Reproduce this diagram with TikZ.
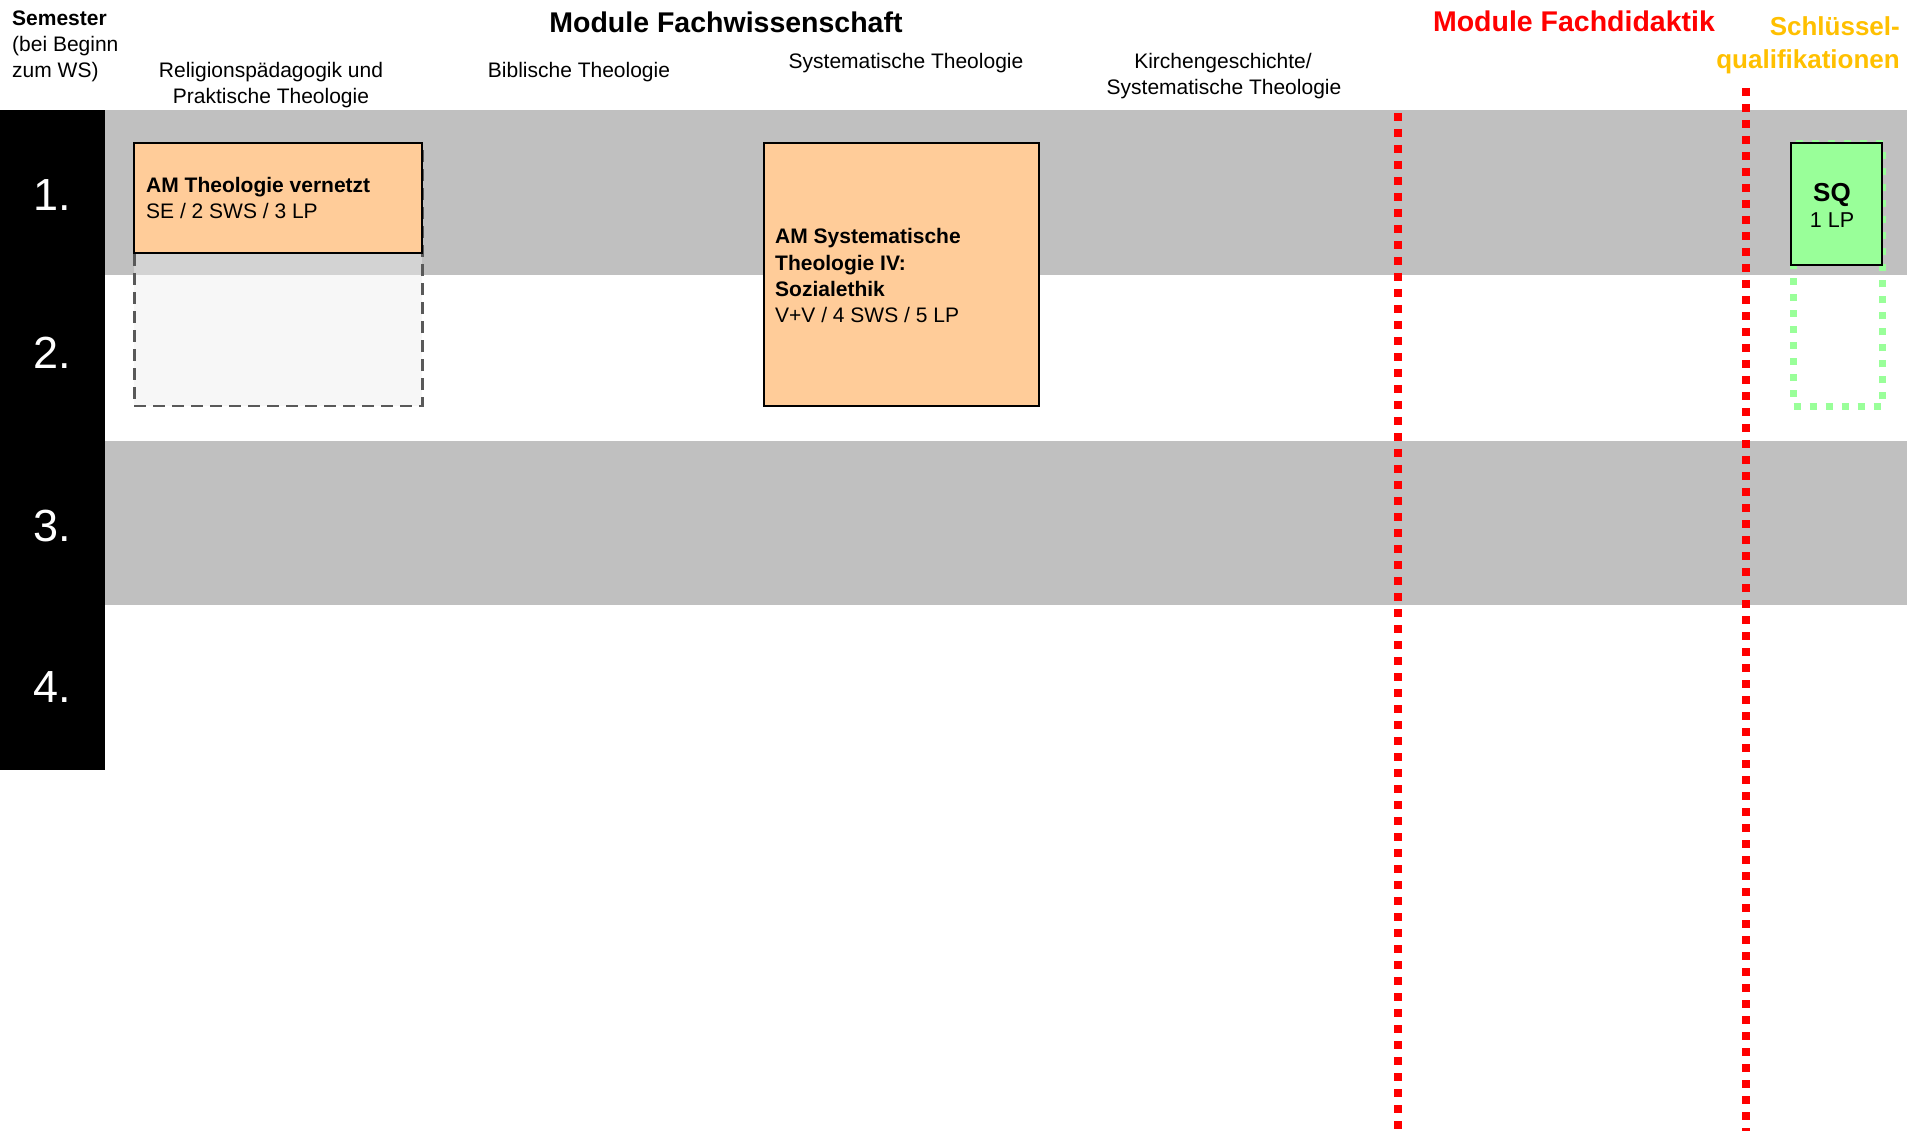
\documentclass[tikz,border=0pt]{standalone}
\usepackage{fontspec}
\setmainfont{Liberation Sans}
\definecolor{bandgray}{HTML}{C0C0C0}
\definecolor{peach}{HTML}{FFCC99}
\definecolor{sqgreen}{HTML}{99FF99}
\definecolor{sqorange}{HTML}{FFC000}
\definecolor{dashgray}{HTML}{595959}
\definecolor{ghostfill}{HTML}{EDEDED}
\tikzset{
  txt/.style={inner sep=0pt, anchor=base, font=\fontsize{21}{24}\selectfont},
  txtl/.style={txt, anchor=base west},
  btxtl/.style={txtl, font=\fontsize{21}{24}\selectfont\bfseries},
  numtxt/.style={inner sep=0pt, anchor=base, text=white, font=\fontsize{45}{50}\selectfont},
  title/.style={inner sep=0pt, anchor=base, font=\fontsize{28.5}{32}\selectfont\bfseries},
  sqtitle/.style={inner sep=0pt, anchor=base east, text=sqorange, font=\fontsize{26}{30}\selectfont\bfseries},
  modbox/.style={draw=black, line width=2pt, fill=peach, inner sep=0pt, anchor=north west},
  ghostbox/.style={draw=dashgray, line width=2.5pt, dash pattern=on 12pt off 7pt, fill=ghostfill, fill opacity=0.44, inner sep=0pt, anchor=north west},
  sqbox/.style={draw=black, line width=2pt, fill=sqgreen, inner sep=0pt, anchor=north west},
  sqghost/.style={draw=sqgreen, line width=7pt, dash pattern=on 7pt off 9pt, inner sep=0pt, anchor=north west},
  reddiv/.style={draw=red, line width=7.5pt, dash pattern=on 8pt off 8pt}
}
\begin{document}
\begin{tikzpicture}[x=1pt,y=-1pt]
\useasboundingbox (0,0) rectangle (1907,1131);
\fill[white] (0,0) rectangle (1907,1131);
% semester bands
\fill[bandgray] (105,110) rectangle (1907,275);
\fill[bandgray] (105,441) rectangle (1907,605);
\fill[black] (0,110) rectangle (105,770);
\node[numtxt] (n1) at (52,211) {1.};
\node[numtxt] (n2) at (52,369) {2.};
\node[numtxt] (n3) at (52,541) {3.};
\node[numtxt] (n4) at (52,702) {4.};
% header
\node[btxtl] (sem1) at (12,26) {Semester};
\node[txtl] (sem2) at (12,51.5) {(bei Beginn};
\node[txtl] (sem3) at (12,77.5) {zum WS)};
\node[title] (fw) at (726,33) {Module Fachwissenschaft};
\node[title, text=red] (fd) at (1574,32) {Module Fachdidaktik};
\node[sqtitle] (sq1) at (1900,36) {Schlüssel-};
\node[sqtitle] (sq2) at (1900,68.5) {qualifikationen};
\node[txt] (c1a) at (271,77.5) {Religionspädagogik und};
\node[txt] (c1b) at (271,104) {Praktische Theologie};
\node[txt] (c2) at (579,77.5) {Biblische Theologie};
\node[txt] (c3) at (906,69) {Systematische Theologie};
\node[txt] (c4a) at (1223,69) {Kirchengeschichte/};
\node[txt] (c4b) at (1224,94.5) {Systematische Theologie};
% dividers
\coordinate (d1t) at (1398,113);
\coordinate (d1b) at (1398,1131);
\coordinate (d2t) at (1746,88);
\coordinate (d2b) at (1746,1131);
\draw[reddiv] (d1t) -- (d1b);
\draw[reddiv] (d2t) -- (d2b);
% module boxes
\node[ghostbox, minimum width=288pt, minimum height=263pt] (g1) at (133,142) {};
\node[modbox, minimum width=288pt, minimum height=110pt] (b1) at (133,142) {};
\node[btxtl] (b1t1) at (146,193) {AM Theologie vernetzt};
\node[txtl] (b1t2) at (146,219) {SE / 2 SWS / 3 LP};
\node[modbox, minimum width=275pt, minimum height=263pt] (b2) at (763,142) {};
\node[btxtl] (b2t1) at (775,244) {AM Systematische};
\node[btxtl] (b2t2) at (775,270.5) {Theologie IV:};
\node[btxtl] (b2t3) at (775,297) {Sozialethik};
\node[txtl] (b2t4) at (775,323) {V+V / 4 SWS / 5 LP};
% key qualifications
\node[sqghost, minimum width=89pt, minimum height=263pt] (sqg) at (1790,140) {};
\node[sqbox, minimum width=91pt, minimum height=122pt] (sq) at (1790,142) {};
\node[inner sep=0pt, anchor=base, font=\fontsize{26}{30}\selectfont\bfseries] (sqt1) at (1832,202) {SQ};
\node[inner sep=0pt, anchor=base, font=\fontsize{21.5}{25}\selectfont] (sqt2) at (1832,228) {1 LP};
\end{tikzpicture}
\end{document}
